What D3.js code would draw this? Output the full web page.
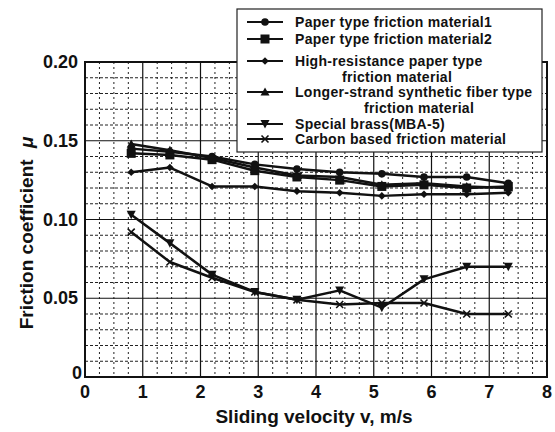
<!DOCTYPE html>
<html>
<head>
<meta charset="utf-8">
<script src="https://cdn.jsdelivr.net/npm/d3@7"></script>
<style>
  body { margin: 0; background: #fff; }
  text { font-family: "Liberation Sans", Arial, sans-serif; font-weight: bold; fill: #111; }
</style>
</head>
<body>
<div id="container"></div>
<script>
// velocity points (m/s)
const velocity = [0.8, 1.47, 2.2, 2.94, 3.67, 4.41, 5.14, 5.87, 6.61, 7.33];

const paper1      = [0.145, 0.143, 0.140, 0.135, 0.132, 0.130, 0.129, 0.127, 0.127, 0.123];
const paper2      = [0.142, 0.141, 0.138, 0.131, 0.127, 0.125, 0.121, 0.122, 0.120, 0.121];
const highRes     = [0.130, 0.133, 0.121, 0.121, 0.118, 0.117, 0.115, 0.116, 0.116, 0.117];
const longStrand  = [0.148, 0.144, 0.139, 0.133, 0.128, 0.127, 0.122, 0.123, 0.121, 0.120];
const brass       = [0.103, 0.085, 0.065, 0.054, 0.049, 0.055, 0.044, 0.062, 0.070, 0.070];
const carbon      = [0.092, 0.073, 0.063, 0.054, 0.049, 0.046, 0.047, 0.047, 0.040, 0.040];

const seriesNames = [
  ['Paper type friction material1'],
  ['Paper type friction material2'],
  ['High-resistance paper type', 'friction material'],
  ['Longer-strand synthetic fiber type', 'friction material'],
  ['Special brass(MBA-5)'],
  ['Carbon based friction material']
];
const seriesValues = [paper1, paper2, highRes, longStrand, brass, carbon];
const markerTypes = ['circle', 'square', 'diamond', 'triangle', 'down', 'cross'];

const xTicks = [0, 1, 2, 3, 4, 5, 6, 7, 8];
const yTicks = [0, 0.05, 0.10, 0.15, 0.20];
const yTickLabels = ['0', '0.05', '0.10', '0.15', '0.20'];

window.addEventListener('DOMContentLoaded', () => {

    const svg = d3.select('#container')
        .append('svg')
        .attr('width', 555)
        .attr('height', 432);

    const left = 85, right = 547, top = 62, bottom = 377;

    const x = d3.scaleLinear().domain([0, 8]).range([left, right]);
    const y = d3.scaleLinear().domain([0, 0.2]).range([bottom, top]);

    // minor dotted grid
    const grid = svg.append('g');
    grid.selectAll('line.mx')
        .data(d3.range(0, 8.001, 0.25).filter(d => Math.abs(d - Math.round(d)) > 0.01))
        .enter().append('line')
        .attr('x1', d => x(d)).attr('x2', d => x(d))
        .attr('y1', top).attr('y2', bottom)
        .attr('stroke', '#222').attr('stroke-width', 1)
        .attr('stroke-dasharray', '2,3');
    grid.selectAll('line.my')
        .data(d3.range(0, 0.2001, 0.01).filter(d => Math.abs(d * 20 - Math.round(d * 20)) > 0.01))
        .enter().append('line')
        .attr('x1', left).attr('x2', right)
        .attr('y1', d => y(d)).attr('y2', d => y(d))
        .attr('stroke', '#222').attr('stroke-width', 1)
        .attr('stroke-dasharray', '3,2');

    // major grid
    grid.selectAll('line.Mx')
        .data(xTicks)
        .enter().append('line')
        .attr('x1', d => x(d)).attr('x2', d => x(d))
        .attr('y1', top).attr('y2', bottom)
        .attr('stroke', '#111').attr('stroke-width', 1.2);
    grid.selectAll('line.My')
        .data(yTicks)
        .enter().append('line')
        .attr('x1', left).attr('x2', right)
        .attr('y1', d => y(d)).attr('y2', d => y(d))
        .attr('stroke', '#111').attr('stroke-width', 1.2);

    svg.append('rect')
        .attr('x', left).attr('y', top)
        .attr('width', right - left).attr('height', bottom - top)
        .attr('fill', 'none').attr('stroke', '#111').attr('stroke-width', 2);

    // tick labels
    svg.selectAll('text.xt')
        .data(xTicks)
        .enter().append('text')
        .attr('x', d => x(d)).attr('y', 398)
        .attr('text-anchor', 'middle')
        .style('font-size', '18px')
        .text(d => d);
    svg.selectAll('text.yt')
        .data(yTicks)
        .enter().append('text')
        .attr('x', (d, i) => i === 0 ? 82 : 78)
        .attr('y', (d, i) => i === 0 ? y(d) + 2 : y(d) + 6)
        .attr('text-anchor', 'end')
        .style('font-size', '18px')
        .text((d, i) => yTickLabels[i]);

    // axis titles
    svg.append('text')
        .attr('x', 314).attr('y', 423)
        .attr('text-anchor', 'middle')
        .style('font-size', '19px')
        .text('Sliding velocity v, m/s');
    const yt = svg.append('text')
        .attr('transform', 'translate(33,233) rotate(-90)')
        .attr('text-anchor', 'middle')
        .style('font-size', '19px');
    yt.append('tspan').text('Friction coefficient ');
    yt.append('tspan').attr('dx', 6).style('font-style', 'italic').text('μ');

    // marker drawing
    function drawMarker(g, type, cx, cy) {
        if (type === 'circle') {
            g.append('circle').attr('cx', cx).attr('cy', cy).attr('r', 3.8).attr('fill', '#111');
        } else if (type === 'square') {
            g.append('rect').attr('x', cx - 4.5).attr('y', cy - 4.5).attr('width', 9).attr('height', 9).attr('fill', '#111');
        } else if (type === 'diamond') {
            g.append('path').attr('d', `M${cx},${cy - 3.8}L${cx + 3.8},${cy}L${cx},${cy + 3.8}L${cx - 3.8},${cy}Z`).attr('fill', '#111');
        } else if (type === 'triangle') {
            g.append('path').attr('d', `M${cx},${cy - 4.5}L${cx + 4.5},${cy + 3.5}L${cx - 4.5},${cy + 3.5}Z`).attr('fill', '#111');
        } else if (type === 'down') {
            g.append('path').attr('d', `M${cx - 4.5},${cy - 4}L${cx + 4.5},${cy - 4}L${cx},${cy + 4.5}Z`).attr('fill', '#111');
        } else {
            g.append('path').attr('d', `M${cx - 3.5},${cy - 3.5}L${cx + 3.5},${cy + 3.5}M${cx + 3.5},${cy - 3.5}L${cx - 3.5},${cy + 3.5}`)
                .attr('stroke', '#111').attr('stroke-width', 1.6);
        }
    }

    const line = d3.line()
        .x((d, i) => x(velocity[i]))
        .y(d => y(d));

    seriesValues.forEach((vals, s) => {
        const g = svg.append('g');
        g.append('path')
            .attr('d', line(vals))
            .attr('fill', 'none')
            .attr('stroke', '#111')
            .attr('stroke-width', 2.5)
            .attr('stroke-linejoin', 'round');
        vals.forEach((v, i) => drawMarker(g, markerTypes[s], x(velocity[i]), y(v)));
    });

    // legend
    const legend = svg.append('g');
    legend.append('rect')
        .attr('x', 237).attr('y', 9)
        .attr('width', 305).attr('height', 143)
        .attr('fill', '#fff').attr('stroke', '#222').attr('stroke-width', 1.2);

    const rowY = [22, 39, 61, 92, 124, 139];
    seriesNames.forEach((names, s) => {
        const ly = rowY[s];
        legend.append('line')
            .attr('x1', 247).attr('x2', 283)
            .attr('y1', ly).attr('y2', ly)
            .attr('stroke', '#111').attr('stroke-width', 2);
        drawMarker(legend, markerTypes[s], 265, ly);
        names.forEach((t, k) => {
            legend.append('text')
                .attr('x', k === 0 ? 295 : (s === 2 ? 342 : 364))
                .attr('y', ly + 5 + k * 15.5)
                .style('font-size', '14px')
                .style('letter-spacing', '0.3px')
                .text(t);
        });
    });

});
</script>
</body>
</html>
